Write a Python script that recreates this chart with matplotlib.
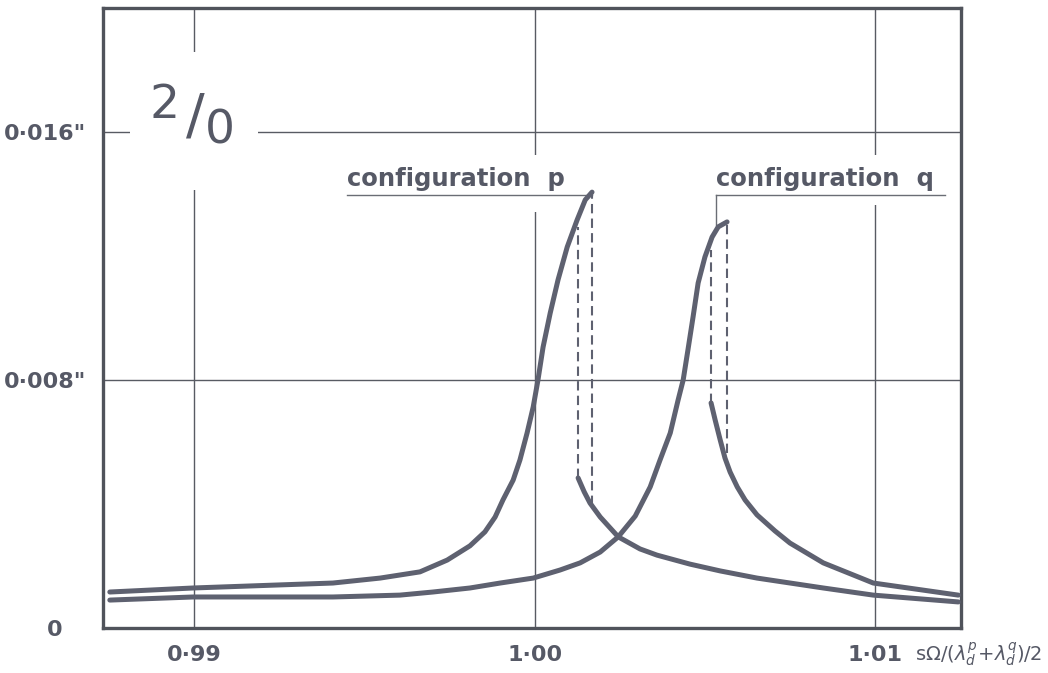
import matplotlib
matplotlib.use("Agg")
import matplotlib.pyplot as plt
from matplotlib.patches import Rectangle

# frequency ratio (x) and amplitude in inches (y)
p_up_x = [0.98751, 0.98996, 0.99407, 0.99546, 0.99663, 0.99743, 0.99810, 0.99854,
          0.99884, 0.99907, 0.99937, 0.99957, 0.99978, 0.99996, 1.00010, 1.00025,
          1.00046, 1.00069, 1.00096, 1.00125, 1.00149, 1.00169]
p_up_y = [0.00116, 0.00129, 0.00145, 0.00161, 0.00181, 0.00219, 0.00265, 0.00310,
          0.00358, 0.00413, 0.00477, 0.00542, 0.00629, 0.00713, 0.00800, 0.00906,
          0.01016, 0.01123, 0.01229, 0.01316, 0.01381, 0.01406]
p_lo_x = [1.00128, 1.00146, 1.00163, 1.00193, 1.00246, 1.00310, 1.00360, 1.00457,
          1.00546, 1.00654, 1.00849, 1.00996, 1.01246]
p_lo_y = [0.00484, 0.00439, 0.00403, 0.00358, 0.00294, 0.00255, 0.00235, 0.00206,
          0.00184, 0.00161, 0.00129, 0.00106, 0.00084]

q_up_x = [0.98751, 0.98996, 0.99407, 0.99604, 0.99701, 0.99810, 0.99899, 0.99996,
          1.00075, 1.00134, 1.00193, 1.00246, 1.00296, 1.00340, 1.00369, 1.00399,
          1.00422, 1.00437, 1.00451, 1.00466, 1.00481, 1.00501, 1.00522, 1.00540, 1.00566]
q_up_y = [0.00090, 0.00100, 0.00100, 0.00106, 0.00116, 0.00129, 0.00145, 0.00161,
          0.00187, 0.00210, 0.00245, 0.00294, 0.00361, 0.00455, 0.00542, 0.00629,
          0.00735, 0.00800, 0.00897, 0.01003, 0.01113, 0.01197, 0.01261, 0.01294, 0.01310]
q_lo_x = [1.00519, 1.00531, 1.00546, 1.00560, 1.00575, 1.00596, 1.00619, 1.00654,
          1.00707, 1.00751, 1.00849, 1.00996, 1.01246]
q_lo_y = [0.00726, 0.00671, 0.00606, 0.00548, 0.00503, 0.00455, 0.00413, 0.00365,
          0.00313, 0.00274, 0.00210, 0.00145, 0.00106]

# jump lines (dashed)
p_jump_x = [1.00128, 1.00169]
p_jump_top = [0.01294, 0.01406]
p_jump_bot = [0.00484, 0.00397]
q_jump_x = [1.00519, 1.00566]
q_jump_top = [0.01219, 0.01310]
q_jump_bot = [0.00726, 0.00565]

x_ticks = [0.99, 1.00, 1.01]
x_labels = ["0·99", "1·00", "1·01"]
y_ticks = [0.0, 0.008, 0.016]
y_labels = ["0   ", "0·008\"", "0·016\""]

ink = "#565966"
line_col = "#5e6170"
lbl = dict(family="DejaVu Sans", fontweight="bold", color=ink)

fig = plt.figure(figsize=(10.48, 6.73), dpi=100)
ax = fig.add_axes([0.0983, 0.0669, 0.8187, 0.9212])
ax.set_xlim(0.98731, 1.01254)
ax.set_ylim(0, 0.02)

for s in ax.spines.values():
    s.set_linewidth(2.4)
    s.set_color("#50535b")

# grid
for xv in x_ticks:
    ax.axvline(xv, color="#585b63", lw=1.0, zorder=1)
for yv in y_ticks[1:]:
    ax.axhline(yv, color="#585b63", lw=1.0, zorder=1)

# white gaps where the lettering sits
for (x0, y0, w, h) in [(0.0315, 0.7065, 0.1492, 0.2225),
                       (0.2727, 0.6710, 0.3031, 0.0919),
                       (0.7016, 0.6823, 0.2856, 0.0806)]:
    ax.add_patch(Rectangle((x0, y0), w, h, transform=ax.transAxes,
                           facecolor="white", edgecolor="none", zorder=1.5))

# curves
kw = dict(color=line_col, lw=3.6, solid_capstyle="round", solid_joinstyle="round", zorder=3)
ax.plot(p_up_x, p_up_y, **kw)
ax.plot(p_lo_x, p_lo_y, **kw)
ax.plot(q_up_x, q_up_y, **kw)
ax.plot(q_lo_x, q_lo_y, **kw)

for xs, tops, bots in [(p_jump_x, p_jump_top, p_jump_bot), (q_jump_x, q_jump_top, q_jump_bot)]:
    for xv, t, b in zip(xs, tops, bots):
        ax.plot([xv, xv], [b, t], color=line_col, lw=1.5, dashes=(4.5, 2.5), zorder=2.5)

# annotations
ax.plot([0.99449, 1.00169], [0.01397, 0.01397], color="#6a6d75", lw=1.0, zorder=2)
ax.plot([1.00534, 1.01207], [0.01397, 0.01397], color="#6a6d75", lw=1.0, zorder=2)
ax.plot([1.00534, 1.00534], [0.01397, 0.01300], color="#6a6d75", lw=1.0, zorder=2)
ax.text(0.99449, 0.01426, "configuration  p", fontsize=17.5, ha="left", va="baseline",
        zorder=4, **lbl)
ax.text(1.00534, 0.01426, "configuration  q", fontsize=17.5, ha="left", va="baseline",
        zorder=4, **lbl)

ax.text(0.0723, 0.8435, "2", transform=ax.transAxes, fontsize=34, color=ink,
        ha="center", va="center", zorder=4)
ax.text(0.1072, 0.824, "/", transform=ax.transAxes, fontsize=40, color=ink,
        ha="center", va="center", zorder=4)
ax.text(0.1364, 0.8016, "0", transform=ax.transAxes, fontsize=34, color=ink,
        ha="center", va="center", zorder=4)

ax.set_xticks(x_ticks)
ax.set_xticklabels(x_labels, fontsize=16, **lbl)
ax.set_yticks(y_ticks)
ax.set_yticklabels(y_labels, fontsize=16, **lbl)
ax.tick_params(length=0)
ax.tick_params(axis="x", pad=12)
ax.tick_params(axis="y", pad=12)

ax.text(0.946, -0.0435, r"s$\Omega/(\lambda_d^p\!+\!\lambda_d^q)/2$", transform=ax.transAxes,
        fontsize=14, color=ink, ha="left", va="center")

fig.savefig("out.png", dpi=100)
